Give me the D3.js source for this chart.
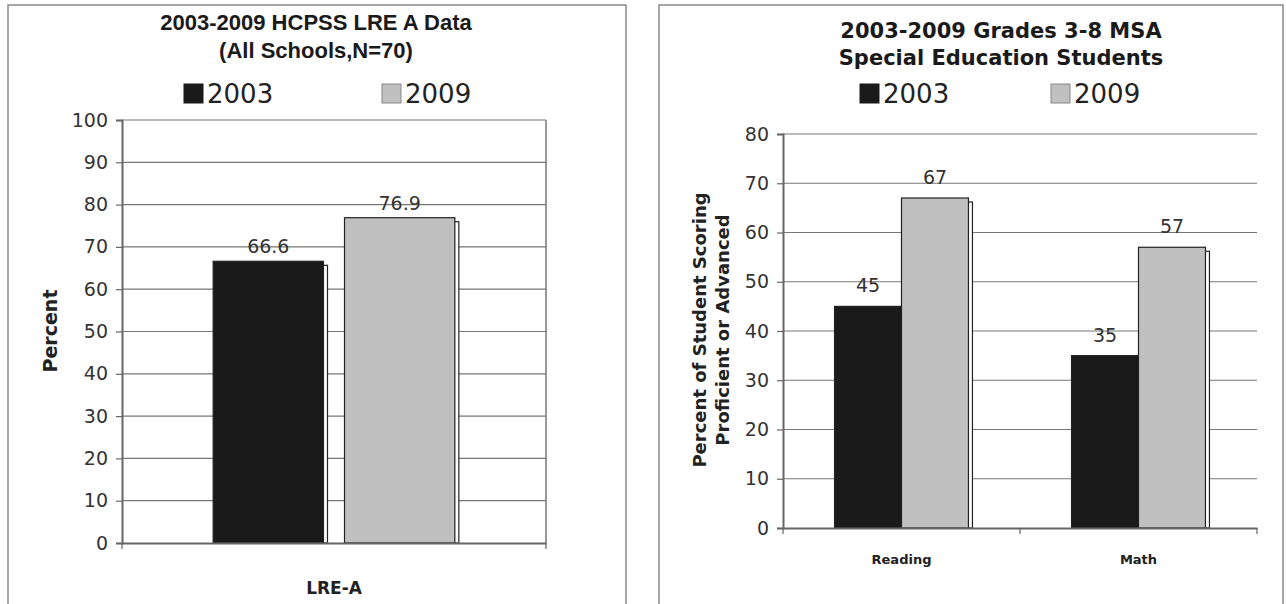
<!DOCTYPE html>
<html><head><meta charset="utf-8">
<script src="https://cdn.jsdelivr.net/npm/d3@7"></script>
<style>body{margin:0;background:#fff}svg{display:block}</style>
</head><body>
<svg id="c" width="1286" height="604"></svg>
<script>
// ---- data ----
const seriesNames = ["2003", "2009"];
const seriesColors = ["#1a1a1a", "#c0c0c0"];

const leftTitle = ["2003-2009 HCPSS LRE A Data", "(All Schools,N=70)"];
const leftCategories = ["LRE-A"];
const left2003 = [66.6];
const left2009 = [76.9];
const leftTicks = [0, 10, 20, 30, 40, 50, 60, 70, 80, 90, 100];
const leftYLabel = ["Percent"];

const rightTitle = ["2003-2009 Grades 3-8 MSA", "Special Education Students"];
const rightCategories = ["Reading", "Math"];
const right2003 = [45, 35];
const right2009 = [67, 57];
const rightTicks = [0, 10, 20, 30, 40, 50, 60, 70, 80];
const rightYLabel = ["Percent of Student Scoring", "Proficient or Advanced"];

const svg = d3.select("#c");
const FONT = "'DejaVu Sans', Verdana, sans-serif";

function panel(o) {
  const g = svg.append("g");
  g.append("rect").attr("x", o.frame[0]).attr("y", o.frame[1])
    .attr("width", o.frame[2]).attr("height", o.frame[3])
    .attr("fill", "#fff").attr("stroke", "#8a8a8a").attr("stroke-width", 1.5);

  o.title.forEach((t, i) => {
    g.append("text").attr("x", o.titleX).attr("y", o.titleY + i * o.titleGap)
      .attr("text-anchor", "middle").attr("font-family", o.titleFont)
      .attr("font-weight", "bold").attr("font-size", o.titleSize).attr("fill", "#1a1a1a").text(t);
  });

  seriesNames.forEach((s, i) => {
    const lx = o.legendX[i];
    g.append("rect").attr("x", lx).attr("y", o.legendY - 19).attr("width", 19).attr("height", 19)
      .attr("fill", seriesColors[i]).attr("stroke", i ? "#888" : "#1a1a1a").attr("stroke-width", 1);
    g.append("text").attr("x", lx + 23).attr("y", o.legendY).attr("font-family", FONT)
      .attr("font-size", 26).attr("fill", "#222").text(s);
  });

  const y = d3.scaleLinear().domain([0, d3.max(o.ticks)]).range([o.plot[3], o.plot[1]]);
  const x = d3.scaleBand().domain(o.categories).range([o.plot[0], o.plot[2]]).paddingInner(0).paddingOuter(0);
  const xs = d3.scaleBand().domain(seriesNames).range([0, x.bandwidth() * o.groupFrac]).paddingInner(o.innerPad);
  const groupOff = (x.bandwidth() - x.bandwidth() * o.groupFrac) / 2;

  g.append("g").selectAll("line").data(o.ticks.filter(t => t > 0)).join("line")
    .attr("x1", o.plot[0]).attr("x2", o.plot[2])
    .attr("y1", d => y(d)).attr("y2", d => y(d))
    .attr("stroke", "#777").attr("stroke-width", 1.2);

  if (o.rightBorder) {
    g.append("line").attr("x1", o.plot[2]).attr("x2", o.plot[2]).attr("y1", o.plot[1]).attr("y2", o.plot[3])
      .attr("stroke", "#777").attr("stroke-width", 1.5);
  }

  const ya = g.append("g").attr("transform", `translate(${o.plot[0]},0)`)
    .call(d3.axisLeft(y).tickValues(o.ticks).tickSize(6).tickPadding(8));
  ya.select(".domain").attr("stroke", "#666").attr("stroke-width", 2);
  ya.selectAll(".tick line").attr("stroke", "#666").attr("stroke-width", 1.2);
  ya.selectAll(".tick text").attr("font-family", FONT).attr("font-size", o.tickSize).attr("fill", "#333");

  const data = [];
  o.categories.forEach((c, ci) => {
    seriesNames.forEach((s, si) => data.push({ c, s, si, v: o.series[si][ci] }));
  });
  const bx = d => x(d.c) + groupOff + xs(d.s);
  g.append("g").selectAll("rect").data(data).join("rect")
    .attr("x", d => bx(d) + 4).attr("y", d => y(d.v) + 4)
    .attr("width", xs.bandwidth()).attr("height", d => y(0) - y(d.v) - 4)
    .attr("fill", "#fff").attr("stroke", "#222").attr("stroke-width", 1.2);
  g.append("g").selectAll("rect").data(data).join("rect")
    .attr("x", d => bx(d)).attr("y", d => y(d.v))
    .attr("width", xs.bandwidth()).attr("height", d => y(0) - y(d.v))
    .attr("fill", d => seriesColors[d.si]).attr("stroke", "#222").attr("stroke-width", 1.2);

  g.append("g").selectAll("text").data(data).join("text")
    .attr("x", d => bx(d) + xs.bandwidth() / 2).attr("y", d => y(d.v) - o.labelOff)
    .attr("text-anchor", "middle").attr("font-family", FONT).attr("font-size", o.tickSize).attr("fill", "#333")
    .text(d => d.v);

  const xa = g.append("g").attr("transform", `translate(0,${o.plot[3]})`)
    .call(d3.axisBottom(x).tickSize(0).tickFormat(""));
  xa.select(".domain").attr("stroke", "#666").attr("stroke-width", 2);
  const edges = [o.plot[0]].concat(o.categories.map(c => x(c) + x.bandwidth()));
  g.append("g").selectAll("line").data(edges).join("line")
    .attr("x1", d => d).attr("x2", d => d).attr("y1", o.plot[3]).attr("y2", o.plot[3] + 6)
    .attr("stroke", "#666").attr("stroke-width", 1.2);
  g.append("g").selectAll("text").data(o.categories).join("text")
    .attr("x", d => x(d) + x.bandwidth() / 2).attr("y", o.catY)
    .attr("text-anchor", "middle").attr("font-family", FONT).attr("font-weight", "bold")
    .attr("font-size", o.catSize).attr("fill", "#222").text(d => d);

  o.yLabel.forEach((t, i) => {
    g.append("text").attr("transform", `translate(${o.yLabelX + i * 23},${o.yLabelY}) rotate(-90)`)
      .attr("text-anchor", "middle").attr("font-family", FONT).attr("font-weight", "bold")
      .attr("font-size", o.yLabelSize).attr("fill", "#222").text(t);
  });
}

panel({
  frame: [8, 5, 618, 610],
  title: leftTitle, titleX: 316, titleY: 30, titleGap: 28,
  titleFont: "'Liberation Sans', Arial, sans-serif", titleSize: 22,
  legendX: [184, 382], legendY: 103,
  plot: [122, 120, 546, 543], ticks: leftTicks, tickSize: 19,
  categories: leftCategories, series: [left2003, left2009],
  groupFrac: 0.57, innerPad: 0.16, labelOff: 8,
  rightBorder: true,
  catY: 594, catSize: 17,
  yLabel: leftYLabel, yLabelX: 57, yLabelY: 331, yLabelSize: 19
});

panel({
  frame: [659, 5, 624, 610],
  title: rightTitle, titleX: 1001, titleY: 38, titleGap: 27,
  titleFont: FONT, titleSize: 21,
  legendX: [860, 1051], legendY: 103,
  plot: [783, 134, 1257, 528], ticks: rightTicks, tickSize: 19,
  categories: rightCategories, series: [right2003, right2009],
  groupFrac: 0.565, innerPad: 0, labelOff: 14,
  rightBorder: false,
  catY: 564, catSize: 13,
  yLabel: rightYLabel, yLabelX: 706, yLabelY: 330, yLabelSize: 18
});
</script>
</body></html>
